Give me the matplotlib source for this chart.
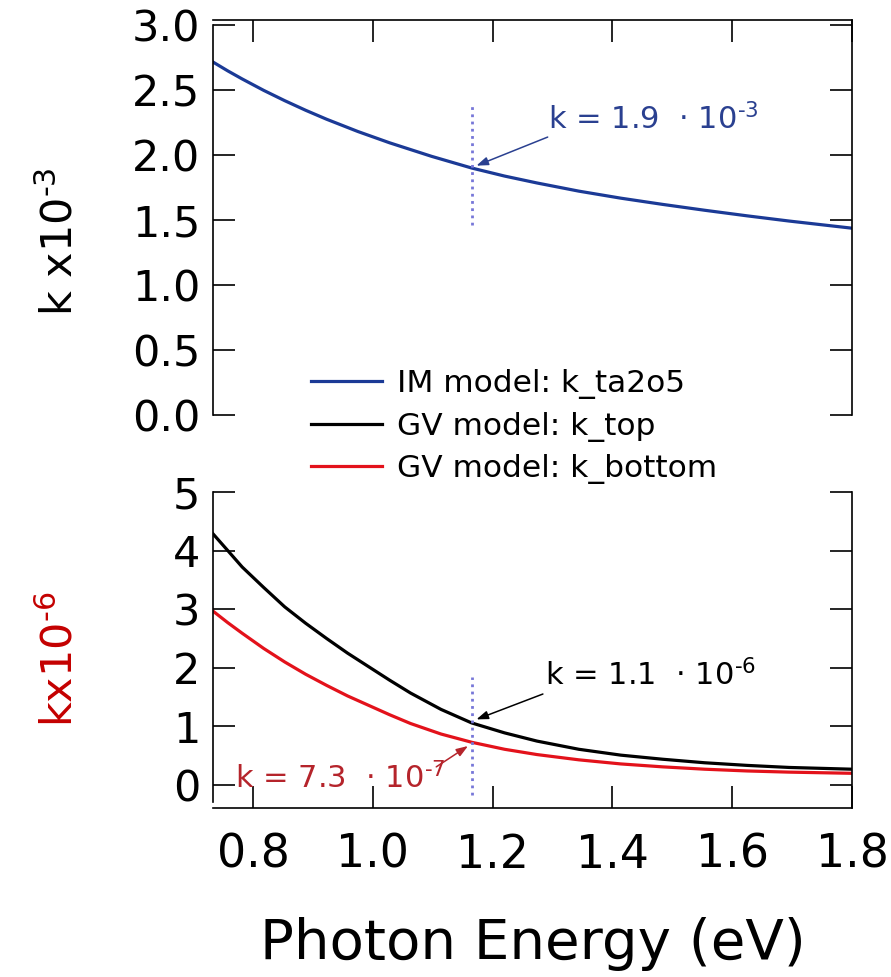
import matplotlib
matplotlib.use("Agg")
import matplotlib.pyplot as plt

# ---------------- data ----------------
E_im = [0.733, 0.758, 0.782, 0.818, 0.853, 0.888, 0.923, 0.975, 1.028, 1.098,
        1.165, 1.22, 1.274, 1.344, 1.414, 1.484, 1.554, 1.625, 1.695, 1.80]
k_im = [2.716, 2.647, 2.585, 2.497, 2.418, 2.344, 2.275, 2.181, 2.094, 1.99,
        1.90, 1.838, 1.785, 1.722, 1.668, 1.62, 1.575, 1.532, 1.492, 1.437]

E_gv = [0.733, 0.758, 0.782, 0.818, 0.853, 0.888, 0.923, 0.958, 0.993, 1.028,
        1.063, 1.114, 1.165, 1.22, 1.274, 1.344, 1.414, 1.484, 1.554, 1.625,
        1.695, 1.80]
k_top = [4.29, 4.00, 3.72, 3.37, 3.04, 2.76, 2.50, 2.25, 2.02, 1.79,
         1.57, 1.29, 1.06, 0.89, 0.75, 0.61, 0.51, 0.44, 0.38, 0.335,
         0.30, 0.27]
k_bottom = [2.97, 2.77, 2.59, 2.33, 2.10, 1.89, 1.70, 1.52, 1.36, 1.20,
            1.05, 0.87, 0.73, 0.61, 0.52, 0.43, 0.36, 0.31, 0.27, 0.24,
            0.22, 0.20]

x_ticks = [0.8, 1.0, 1.2, 1.4, 1.6, 1.8]
x_labels = ["0.8", "1.0", "1.2", "1.4", "1.6", "1.8"]
y1_ticks = [0.0, 0.5, 1.0, 1.5, 2.0, 2.5, 3.0]
y1_labels = ["0.0", "0.5", "1.0", "1.5", "2.0", "2.5", "3.0"]
y2_ticks = [0, 1, 2, 3, 4, 5]
y2_labels = ["0", "1", "2", "3", "4", "5"]

E_mark = 1.165
labels = ["IM model: k_ta2o5", "GV model: k_top", "GV model: k_bottom"]

# ---------------- style ----------------
plt.rcParams['font.family'] = ['DejaVu Sans']
plt.rcParams['mathtext.default'] = 'regular'
BLUE = "#1b3a96"
BLUE_TXT = "#2a4090"
RED = "#e3121b"
RED_TXT = "#b5242b"
DOT = "#7777d8"
HY = "\u2010"
W, H = 891, 977

fig = plt.figure(figsize=(W / 100, H / 100), dpi=100)

def rect(l, t, r, b):
    return [l / W, 1 - b / H, (r - l) / W, (b - t) / H]

ax1 = fig.add_axes(rect(213, 20, 852, 415))
ax2 = fig.add_axes(rect(213, 492, 852, 808))

for ax in (ax1, ax2):
    for s in ax.spines.values():
        s.set_linewidth(1.2)
    ax.set_xlim(0.7333, 1.8)
    ax.set_xticks(x_ticks)

# top panel
l1, = ax1.plot(E_im, k_im, color=BLUE, lw=2.3)
ax1.set_ylim(0, 3.0385)
ax1.spines['bottom'].set_visible(False)
ax1.spines['left'].set_bounds(0, 3.0)
ax1.set_yticks(y1_ticks)
ax1.set_yticklabels(y1_labels)
ax1.tick_params(axis='both', direction='in', length=15.8, width=1.2,
                top=True, bottom=False, right=True, left=True,
                labelbottom=False, labeltop=False, labelright=False,
                labelsize=31, pad=9)
ax1.plot([E_mark, E_mark], [1.46, 2.385], color=DOT, lw=2.0, ls=(0, (1, 1.6)))
ax1.annotate("", xy=(1.173, 1.918), xytext=(1.292, 2.138),
             arrowprops=dict(arrowstyle='-|>,head_length=0.7,head_width=0.25',
                             color=BLUE_TXT, lw=1.1, shrinkA=0, shrinkB=0))
ax1.text(1.292, 2.2, "k = 1.9  $\\cdot$ 10$^{" + HY + "3}$", color=BLUE_TXT,
         fontsize=22, ha='left', va='baseline')

# bottom panel
l2, = ax2.plot(E_gv, k_top, color='black', lw=2.3)
l3, = ax2.plot(E_gv, k_bottom, color=RED, lw=2.3)
ax2.set_ylim(-0.392, 5)
ax2.spines['top'].set_visible(False)
ax2.spines['left'].set_bounds(-0.29, 5)
ax2.set_yticks(y2_ticks)
ax2.set_yticklabels(y2_labels)
ax2.set_xticklabels(x_labels)
ax2.tick_params(axis='both', direction='in', length=15.8, width=1.2,
                top=False, bottom=True, right=True, left=True,
                labelright=False)
ax2.tick_params(axis='y', labelsize=31, pad=9)
ax2.tick_params(axis='x', labelsize=33, pad=18)
ax2.plot([E_mark, E_mark], [-0.17, 1.84], color=DOT, lw=2.0, ls=(0, (1, 1.6)))
ax2.annotate("", xy=(1.173, 1.12), xytext=(1.284, 1.553),
             arrowprops=dict(arrowstyle='-|>,head_length=0.7,head_width=0.25',
                             color='black', lw=1.1, shrinkA=0, shrinkB=0))
ax2.text(1.287, 1.706, "k = 1.1  $\\cdot$ 10$^{" + HY + "6}$", color='black',
         fontsize=22, ha='left', va='baseline')
ax2.annotate("", xy=(1.159, 0.666), xytext=(1.106, 0.31),
             arrowprops=dict(arrowstyle='-|>,head_length=0.7,head_width=0.25',
                             color=RED_TXT, lw=1.1, shrinkA=0, shrinkB=0))
ax2.text(0.77, -0.057, "k = 7.3  $\\cdot$ 10$^{" + HY + "7}$", color=RED_TXT,
         fontsize=22, ha='left', va='baseline')

ax2.set_xlabel("Photon Energy (eV)", fontsize=40.5, labelpad=28)

# y labels
fig.text(60 / W, 1 - 242 / H, "k x10$^{" + HY + "3}$", rotation=90, fontsize=31,
         ha='center', va='center', color='black')
fig.text(60 / W, 1 - 659 / H, "kx10$^{" + HY + "6}$", rotation=90, fontsize=31,
         ha='center', va='center', color='#c40000')

# legend
fig.legend([l1, l2, l3], labels, loc='upper left',
           bbox_to_anchor=(311 / W, 1 - 369 / H), frameon=False,
           fontsize=22.5, handlelength=2.27, handletextpad=0.48,
           labelspacing=0.4, borderpad=0, borderaxespad=0)

fig.savefig("out.png", dpi=100)
